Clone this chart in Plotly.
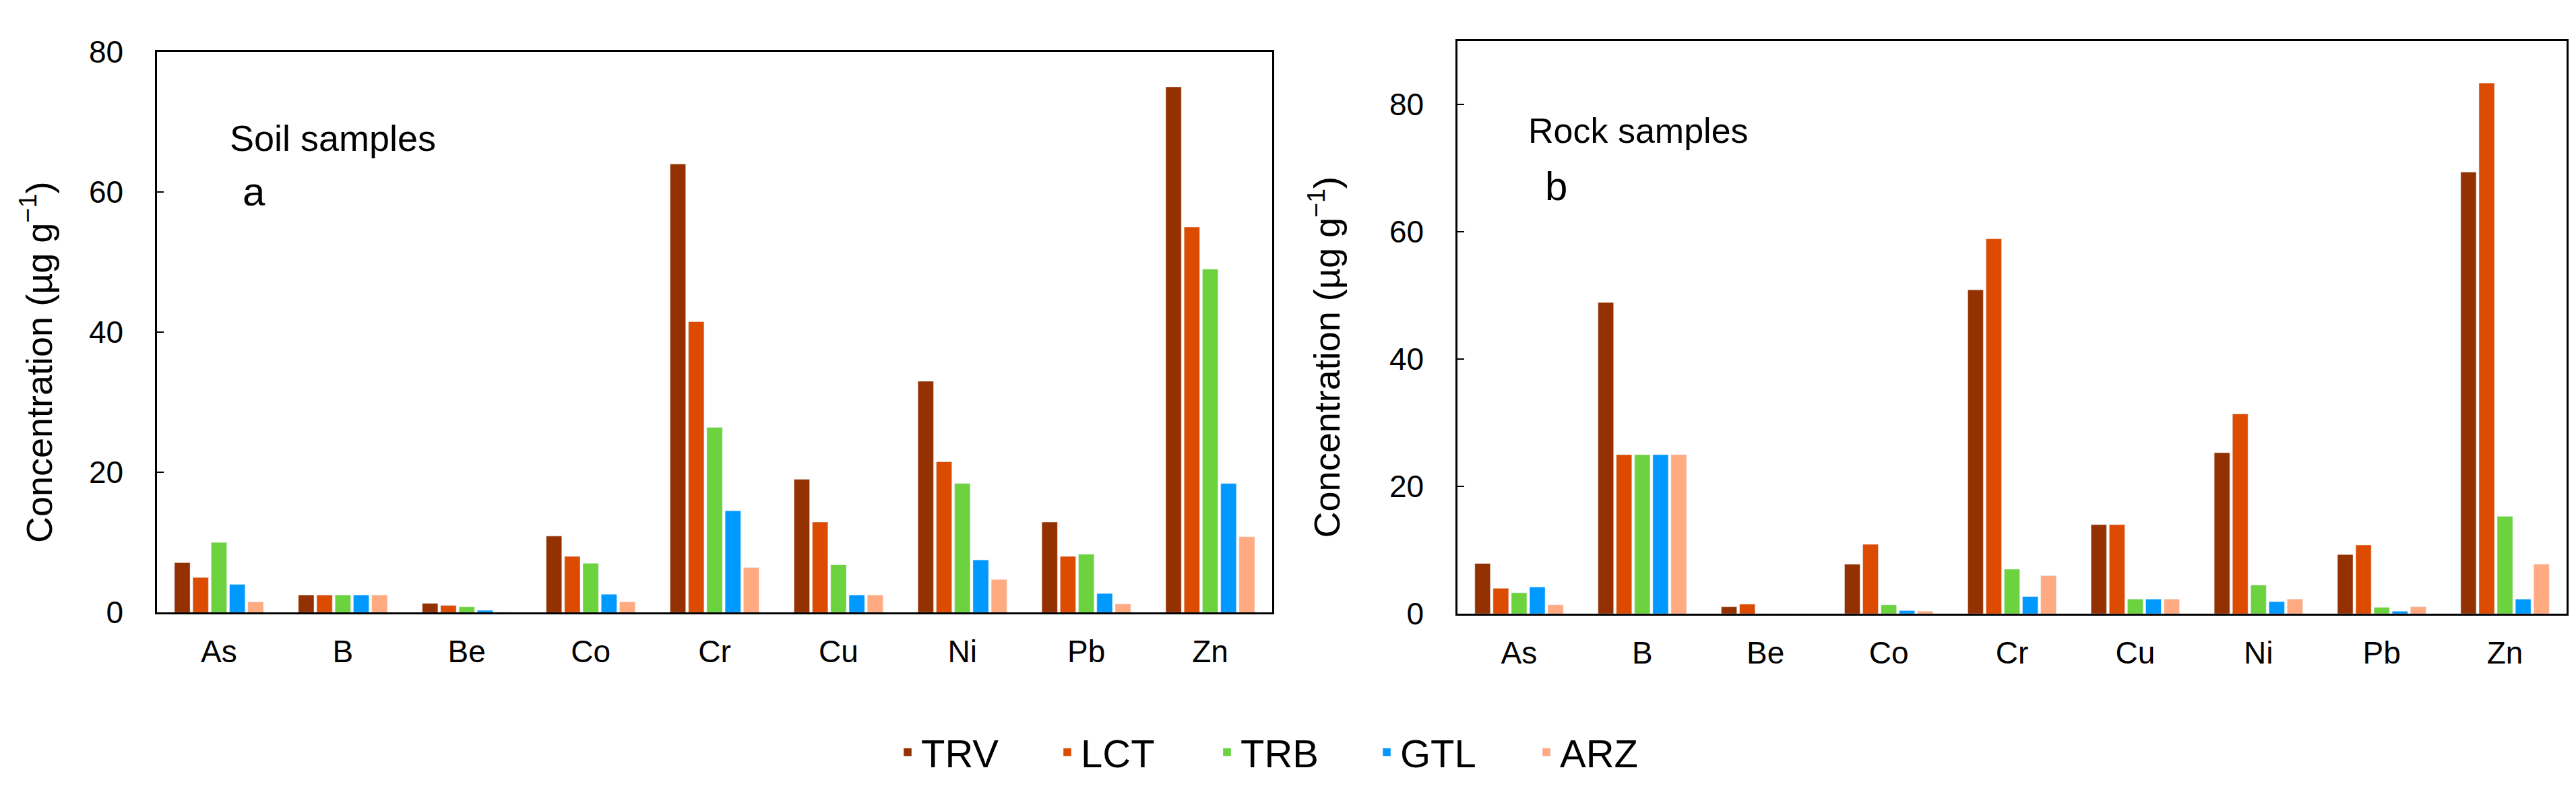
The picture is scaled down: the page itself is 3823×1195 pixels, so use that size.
import plotly.graph_objects as go

# element categories and sampling sites
elements = ['As', 'B', 'Be', 'Co', 'Cr', 'Cu', 'Ni', 'Pb', 'Zn']
sites = ['TRV', 'LCT', 'TRB', 'GTL', 'ARZ']
colors = ['#943100', '#DC4B00', '#6CD23E', '#0099FF', '#FFAA80']

# soil samples (panel a), ug/g
soil_trv = [7.1, 2.5, 1.3, 10.9, 64.0, 19.0, 33.0, 12.9, 75.0]
soil_lct = [5.0, 2.5, 1.0, 8.0, 41.5, 12.9, 21.5, 8.0, 55.0]
soil_trb = [10.0, 2.5, 0.8, 7.0, 26.4, 6.8, 18.4, 8.3, 49.0]
soil_gtl = [4.0, 2.5, 0.3, 2.6, 14.5, 2.5, 7.5, 2.7, 18.4]
soil_arz = [1.5, 2.5, 0.0, 1.5, 6.4, 2.5, 4.7, 1.2, 10.8]

# rock samples (panel b), ug/g
rock_trv = [7.9, 48.9, 1.1, 7.8, 50.9, 14.0, 25.3, 9.3, 69.4]
rock_lct = [4.0, 25.0, 1.5, 10.9, 58.9, 14.0, 31.4, 10.8, 83.4]
rock_trb = [3.3, 25.0, 0.0, 1.4, 7.0, 2.3, 4.5, 1.0, 15.3]
rock_gtl = [4.2, 25.0, 0.0, 0.5, 2.7, 2.3, 1.9, 0.4, 2.3]
rock_arz = [1.4, 25.0, 0.0, 0.4, 6.0, 2.3, 2.3, 1.1, 7.8]

soil = [soil_trv, soil_lct, soil_trb, soil_gtl, soil_arz]
rock = [rock_trv, rock_lct, rock_trb, rock_gtl, rock_arz]

W, H = 3823, 1195
FONT = 'Liberation Sans, Arial, sans-serif'

data = []
for name, col, s_vals, r_vals in zip(sites, colors, soil, rock):
    data.append(go.Bar(x=elements, y=s_vals, name=name, marker_color=col,
                       legendgroup=name, xaxis='x', yaxis='y'))
    data.append(go.Bar(x=elements, y=r_vals, name=name, marker_color=col,
                       legendgroup=name, showlegend=False, xaxis='x2', yaxis='y2'))


def px(x):
    return x / W


def py(y):
    return 1 - y / H


axis_common = dict(showline=True, linecolor='black', linewidth=2.5, mirror=True,
                   showgrid=False, zeroline=False,
                   tickfont=dict(size=46, color='black', family=FONT))
xaxis_common = dict(axis_common, ticks='', ticklabelstandoff=16)
yaxis_common = dict(axis_common, ticks='inside', ticklen=10, tickwidth=2,
                    tickcolor='black', dtick=20, ticklabelstandoff=38)

ytitle = 'Concentration (µg g<sup>−1</sup>)'
annotations = [
    dict(text=ytitle, x=px(46), y=py(527), textangle=-90),
    dict(text=ytitle, x=px(1958), y=py(519), textangle=-90),
    dict(text='Soil samples', x=px(331), y=py(179), xanchor='left', font=dict(size=54)),
    dict(text='a', x=px(350), y=py(262), xanchor='left', font=dict(size=60)),
    dict(text='Rock samples', x=px(2258), y=py(167), xanchor='left', font=dict(size=52)),
    dict(text='b', x=px(2283), y=py(254), xanchor='left', font=dict(size=60)),
]
for a in annotations:
    a.update(xref='paper', yref='paper', showarrow=False)
    a.setdefault('font', dict(size=54))
    a['font'].update(color='black', family=FONT)
    a.setdefault('xanchor', 'center')
    a['yanchor'] = 'middle'

layout = go.Layout(
    width=W, height=H,
    margin=dict(l=0, r=0, t=0, b=0),
    paper_bgcolor='white', plot_bgcolor='white',
    font=dict(family=FONT, color='black'),
    barmode='group', bargap=0.26, bargroupgap=0.15,
    xaxis=dict(xaxis_common, domain=[px(225), px(1880)], anchor='y'),
    yaxis=dict(yaxis_common, domain=[py(915), py(45)], range=[0, 80], anchor='x'),
    xaxis2=dict(xaxis_common, domain=[px(2155), px(3801)], anchor='y2'),
    yaxis2=dict(yaxis_common, domain=[py(917), py(28)], range=[0, 90], anchor='x2'),
    legend=dict(orientation='h', x=0.5, xanchor='center', y=py(1132), yanchor='middle',
                font=dict(size=58, color='black', family=FONT),
                entrywidth=192, itemwidth=30),
    annotations=annotations,
    showlegend=True,
)

fig = go.Figure(data=data, layout=layout)
fig.write_html("out.html")
